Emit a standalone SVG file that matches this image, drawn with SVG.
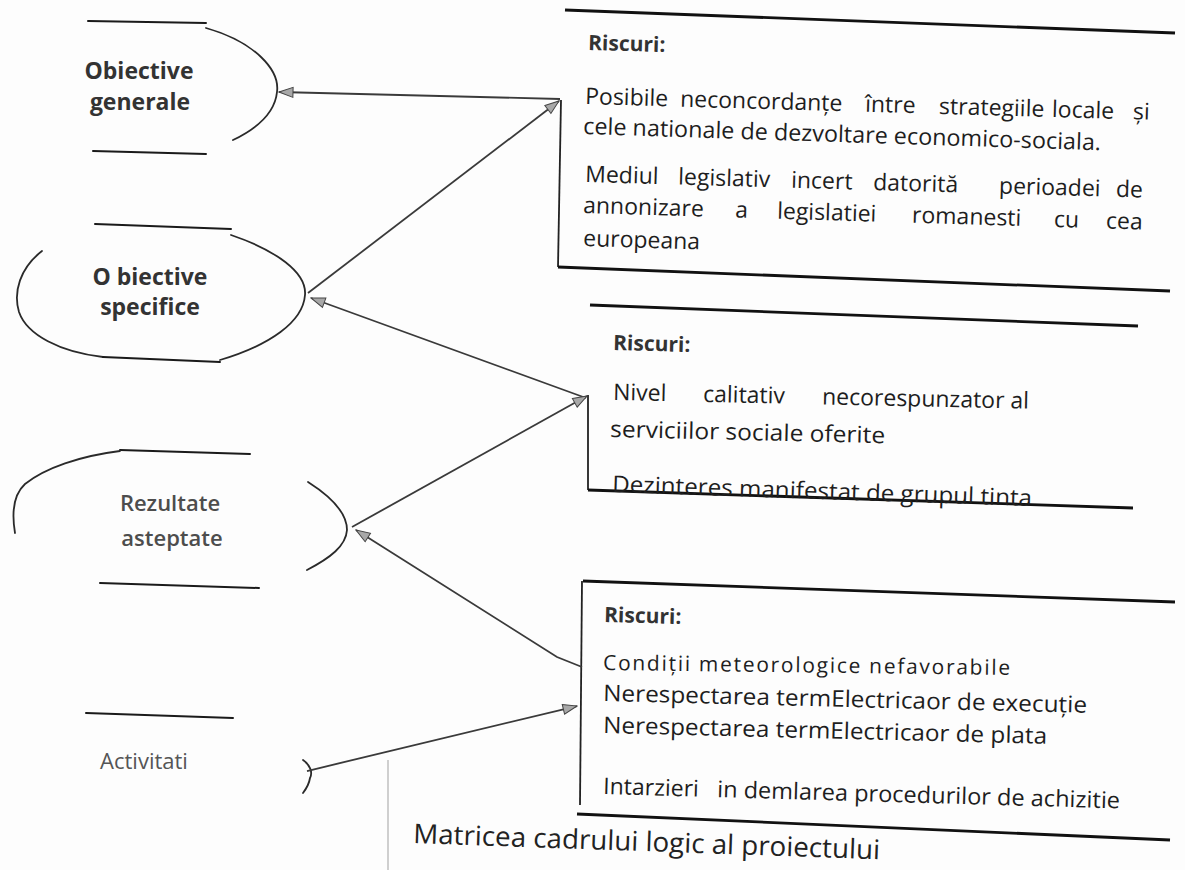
<svg xmlns="http://www.w3.org/2000/svg" width="1185" height="870" viewBox="0 0 1185 870">
<defs>
<style>
.bg{fill:#fdfdfd}
.lbl{font-family:"Open Sans","Liberation Sans",sans-serif;fill:#333;text-anchor:middle}
.lblb{font-weight:700;font-size:23px}
.lbls{font-weight:600;font-size:22px;fill:#4d4d4d}
.body{font-family:"Open Sans","Liberation Sans",sans-serif;font-size:23px;font-weight:500;fill:#1e1e1e}
.risc{font-family:"Open Sans","Liberation Sans",sans-serif;font-size:21px;font-weight:700;fill:#333}
.cap{font-family:"Open Sans","Liberation Sans",sans-serif;font-size:27px;font-weight:500;fill:#222}
.hl{stroke:#1a1a1a;stroke-width:2;fill:none;stroke-linecap:round}
.arc{stroke:#2a2a2a;stroke-width:1.8;fill:none;stroke-linecap:round}
.bh{stroke:#111;stroke-width:2.8;fill:none}
.bv{stroke:#222;stroke-width:1.8;fill:none}
.con{stroke:#3a3a3a;stroke-width:1.8;fill:none;marker-end:url(#ah)}
</style>
<marker id="ah" viewBox="0 0 16 12" refX="15" refY="6" markerWidth="16" markerHeight="12" markerUnits="userSpaceOnUse" orient="auto">
<path d="M1,1 L15,6 L1,11 Z" fill="#a8a8a8" stroke="#444" stroke-width="1"/>
</marker>
</defs>
<rect class="bg" x="0" y="0" width="1185" height="870"/>

<g id="obiective-generale">
<line class="hl" x1="88" y1="21" x2="206" y2="23"/>
<path class="arc" d="M206,28 C255,42 280,70 277,92 C275,112 258,128 233,140"/>
<line class="hl" x1="93" y1="151" x2="206" y2="154"/>
<text class="lbl lblb" x="139" y="79">Obiective</text>
<text class="lbl lblb" x="140" y="110">generale</text>
</g>

<g id="obiective-specifice">
<line class="hl" x1="95" y1="224" x2="231" y2="229"/>
<path class="arc" d="M231,235 C275,250 307,272 305,295 C303,322 270,345 220,360"/>
<path class="arc" d="M42,251 C20,268 13,292 19,312 C27,335 60,352 103,357"/>
<line class="hl" x1="103" y1="357" x2="220" y2="362"/>
<text class="lbl lblb" x="150" y="285">O biective</text>
<text class="lbl lblb" x="150" y="315">specifice</text>
</g>

<g id="rezultate-asteptate">
<line class="hl" x1="120" y1="450" x2="250" y2="454"/>
<path class="arc" d="M120,451 C80,456 45,468 25,484 C12,496 12,515 15,533"/>
<path class="arc" d="M308,482 C330,496 347,512 347,530 C346,546 330,558 307,570"/>
<line class="hl" x1="100" y1="583" x2="259" y2="588"/>
<text class="lbl lbls" x="170" y="511">Rezultate</text>
<text class="lbl lbls" x="172" y="546">asteptate</text>
</g>

<g id="activitati">
<line class="hl" x1="86" y1="713" x2="233" y2="718"/>
<path class="arc" d="M303,760 C310,765 313,772 310,778 C309,785 306,789 303,793"/>
<text class="lbl lbls" x="144" y="769" style="font-weight:500;fill:#555">Activitati</text>
</g>

<g id="riscuri-1">
<line class="bh" x1="565" y1="10" x2="1175" y2="33"/>
<line class="bv" x1="561" y1="100" x2="558" y2="267"/>
<line class="bh" x1="558" y1="267" x2="1170" y2="291"/>
<text class="risc" x="588" y="50" transform="rotate(1.5 588 50)">Riscuri:</text>
<text class="body" transform="rotate(1.6 585 104)" y="104"><tspan x="585">Posibile</tspan><tspan x="680">neconcordanțe</tspan><tspan x="865">între</tspan><tspan x="939">strategiile</tspan><tspan x="1052">locale</tspan><tspan x="1133">și</tspan></text>
<text class="body" x="583" y="134" transform="rotate(1.8 583 134)" textLength="518" lengthAdjust="spacingAndGlyphs">cele nationale de dezvoltare economico-sociala.</text>
<text class="body" transform="rotate(1.6 585 182)" y="182"><tspan x="585">Mediul</tspan><tspan x="678">legislativ</tspan><tspan x="791">incert</tspan><tspan x="873">datorită</tspan><tspan x="999">perioadei</tspan><tspan x="1116">de</tspan></text>
<text class="body" transform="rotate(1.7 583 213)" y="213"><tspan x="583">annonizare</tspan><tspan x="735">a</tspan><tspan x="777">legislatiei</tspan><tspan x="912">romanesti</tspan><tspan x="1054">cu</tspan><tspan x="1106">cea</tspan></text>
<text class="body" x="583" y="246" transform="rotate(1.7 583 246)">europeana</text>
</g>

<g id="riscuri-2">
<line class="bh" x1="590" y1="305" x2="1138" y2="326"/>
<line class="bv" x1="588" y1="395" x2="588" y2="490"/>
<line class="bh" x1="588" y1="490" x2="1133" y2="508"/>
<text class="risc" x="613" y="350" transform="rotate(1.5 613 350)">Riscuri:</text>
<text class="body" transform="rotate(1.2 613 400)" y="400" style="font-weight:400"><tspan x="613">Nivel</tspan><tspan x="703">calitativ</tspan><tspan x="822">necorespunzator al</tspan></text>
<text class="body" x="610" y="437" transform="rotate(1.3 610 437)" textLength="275" lengthAdjust="spacingAndGlyphs">serviciilor sociale oferite</text>
<text class="body" x="612" y="492" transform="rotate(1.9 612 492)" textLength="420" lengthAdjust="spacingAndGlyphs">Dezinteres manifestat de grupul tinta</text>
</g>

<g id="riscuri-3">
<line class="bh" x1="583" y1="581" x2="1175" y2="602"/>
<line class="bv" x1="582" y1="581" x2="580" y2="805"/>
<line class="bh" x1="577" y1="814" x2="1170" y2="840"/>
<text class="risc" x="604" y="622" transform="rotate(1.5 604 622)">Riscuri:</text>
<text class="body" x="603" y="670" transform="rotate(0.7 603 670)" style="font-size:21px;font-weight:400" textLength="407" lengthAdjust="spacing">Condiții meteorologice nefavorabile</text>
<text class="body" x="603" y="701" transform="rotate(1.4 603 701)" textLength="484" lengthAdjust="spacingAndGlyphs">Nerespectarea termElectricaor de execuție</text>
<text class="body" x="603" y="733" transform="rotate(1.4 603 733)" textLength="444" lengthAdjust="spacingAndGlyphs">Nerespectarea termElectricaor de plata</text>
<text class="body" transform="rotate(1.6 603 794)" y="794"><tspan x="603" style="font-weight:400">Intarzieri</tspan><tspan x="717" textLength="403" lengthAdjust="spacingAndGlyphs">in demlarea procedurilor de achizitie</tspan></text>
</g>

<g id="caption">
<text class="cap" x="413" y="843" transform="rotate(2 413 843)" textLength="467" lengthAdjust="spacingAndGlyphs">Matricea cadrului logic al proiectului</text>
<line x1="388" y1="760" x2="388" y2="870" stroke="#cfcfcf" stroke-width="2"/>
</g>

<g id="connectors">
<path class="con" d="M560,99 L279,92"/>
<path class="con" d="M308,293 L559,101"/>
<path class="con" d="M586,398 L311,298"/>
<path class="con" d="M352,527 L587,396"/>
<path class="con" d="M582,667 L557,657 L356,530"/>
<path class="con" d="M307,771 L577,706"/>
</g>
</svg>
